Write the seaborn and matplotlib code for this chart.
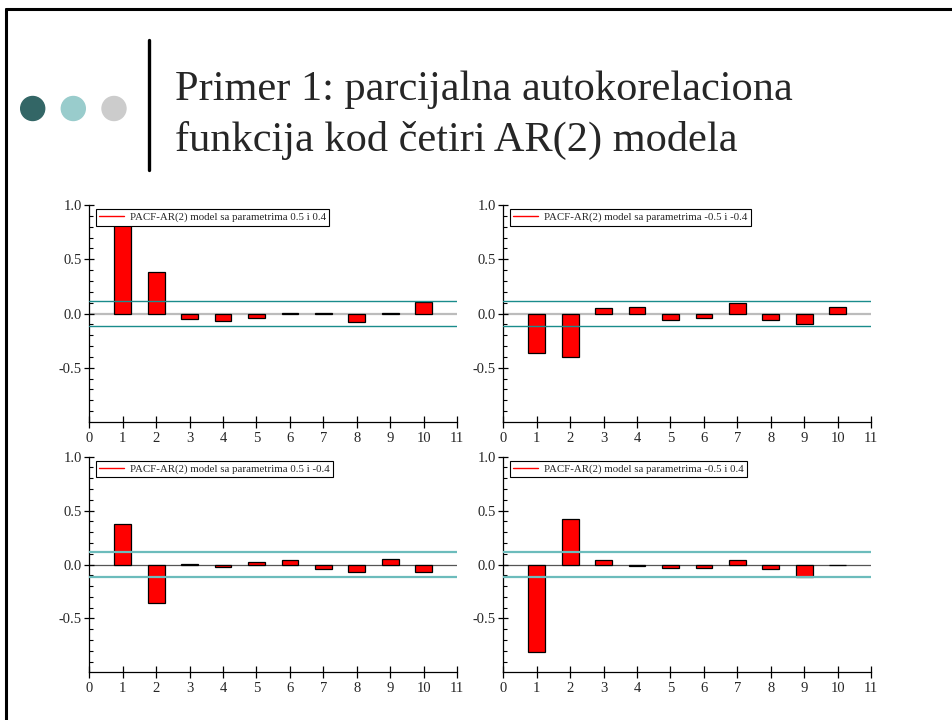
import matplotlib
matplotlib.use("Agg")
import matplotlib.pyplot as plt
import seaborn as sns
import pandas as pd
from matplotlib.lines import Line2D
from matplotlib.patches import Ellipse
from matplotlib.ticker import FixedLocator

# Partial autocorrelations (lags 1..10) for four simulated AR(2) processes
lags = [1, 2, 3, 4, 5, 6, 7, 8, 9, 10]
pacf_p05_p04 = [0.83, 0.38, -0.055, -0.07, -0.037, 0.008, 0.005, -0.08, 0.008, 0.11]
pacf_m05_m04 = [-0.363, -0.40, 0.052, 0.062, -0.058, -0.037, 0.098, -0.058, -0.098, 0.058]
pacf_p05_m04 = [0.374, -0.353, 0.003, -0.025, 0.021, 0.043, -0.04, -0.074, 0.052, -0.067]
pacf_m05_p04 = [-0.81, 0.42, 0.046, -0.015, -0.028, -0.037, 0.04, -0.04, -0.117, -0.009]

labels = [
    "PACF-AR(2) model sa parametrima 0.5 i 0.4",
    "PACF-AR(2) model sa parametrima -0.5 i -0.4",
    "PACF-AR(2) model sa parametrima 0.5 i -0.4",
    "PACF-AR(2) model sa parametrima -0.5 i 0.4",
]
conf_band = 0.115
title_lines = ["Primer 1: parcijalna autokorelaciona",
               "funkcija kod četiri AR(2) modela"]

sns.set_style("white")
plt.rcParams["font.family"] = ["Liberation Serif", "DejaVu Serif"]

W, H = 952, 720
fig = plt.figure(figsize=(W / 100, H / 100), dpi=100)


def fx(px):
    return px / W


def fy(py):
    return 1 - py / H


# slide frame
fig.add_artist(Line2D([fx(6), 1.0], [fy(9), fy(9)], color="black", lw=2.2))
fig.add_artist(Line2D([fx(6), fx(6)], [0.0, fy(9)], color="black", lw=2.2))

# bullet dots and separator
for cx, col in [(32.7, "#336666"), (73.3, "#99CCCC"), (114, "#CCCCCC")]:
    fig.add_artist(Ellipse((fx(cx), fy(108.5)), 24 / W, 24 / H,
                           color=col, transform=fig.transFigure))
fig.add_artist(Line2D([fx(149), fx(149)], [fy(40), fy(170)], color="black", lw=2.4))

fig.text(fx(175), fy(100), title_lines[0], fontsize=30.5, va="baseline", ha="left")
fig.text(fx(175), fy(151), title_lines[1], fontsize=30.5, va="baseline", ha="left")

series = [pacf_p05_p04, pacf_m05_m04, pacf_p05_m04, pacf_m05_p04]
boxes = [
    (89.3, 205, 367.7, 217),
    (503.3, 205, 367.7, 217),
    (89.3, 456.7, 367.7, 215.6),
    (503.3, 456.7, 367.7, 215.6),
]
styles = [
    dict(teal="#1a8c8c", tlw=1.0, zc="#bcbcbc", zlw=1.6),
    dict(teal="#1a8c8c", tlw=1.0, zc="#bcbcbc", zlw=1.6),
    dict(teal="#6cbcbc", tlw=1.6, zc="#555555", zlw=0.9),
    dict(teal="#6cbcbc", tlw=1.6, zc="#555555", zlw=0.9),
]

for vals, lab, (x0, y0, w, h), st in zip(series, labels, boxes, styles):
    ax = fig.add_axes([fx(x0), fy(y0 + h), w / W, h / H])
    df = pd.DataFrame({"lag": lags, "pacf": vals})
    ax.axhline(0, color=st["zc"], lw=st["zlw"], zorder=0.5)
    sns.barplot(data=df, x="lag", y="pacf", native_scale=True, width=0.5,
                color="red", saturation=1, edgecolor="black", linewidth=0.9,
                errorbar=None, ax=ax, zorder=2)
    for b in (conf_band, -conf_band):
        ax.axhline(b, color=st["teal"], lw=st["tlw"], zorder=3)

    ax.set_xlim(0, 11)
    ax.set_ylim(-1, 1)
    ax.xaxis.set_major_locator(FixedLocator(range(0, 12)))
    ax.yaxis.set_major_locator(FixedLocator([-0.5, 0.0, 0.5, 1.0]))
    ax.yaxis.set_minor_locator(FixedLocator([v / 10 for v in range(-9, 10) if v % 5]))
    ax.set_yticklabels(["-0.5", "0.0", "0.5", "1.0"])
    ax.set_xlabel("")
    ax.set_ylabel("")
    for s in ("top", "right"):
        ax.spines[s].set_visible(False)
    for s in ("left", "bottom"):
        ax.spines[s].set_color("black")
        ax.spines[s].set_linewidth(0.9)
    ax.tick_params(axis="x", which="major", direction="inout", length=8,
                   width=0.9, color="black", labelsize=10.5, pad=3, bottom=True)
    ax.tick_params(axis="y", which="major", direction="inout", length=7,
                   width=0.9, color="black", labelsize=10.5, pad=2, left=True)
    ax.tick_params(axis="y", which="minor", direction="in", length=3,
                   width=0.8, color="black", left=True)
    ax.set_facecolor("white")

    handle = Line2D([], [], color="red", lw=1.0)
    leg = ax.legend([handle], [lab], loc="upper left",
                    bbox_to_anchor=(0.018, 0.98), borderaxespad=0,
                    prop={"size": 7.8}, handlelength=2.3, handletextpad=0.55,
                    borderpad=0.3, fancybox=False, framealpha=1,
                    edgecolor="black")
    leg.get_frame().set_linewidth(0.8)
    leg.set_zorder(10)

fig.savefig("out.png", dpi=100, facecolor="white")
